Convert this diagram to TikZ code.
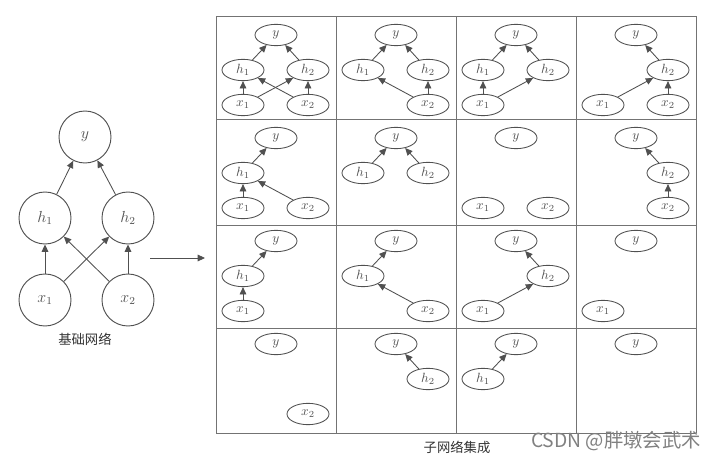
\documentclass[tikz,border=0pt]{standalone}
\usepackage{fontspec}
\newfontfamily\cjk{Noto Sans CJK SC}
\usetikzlibrary{arrows.meta,shapes.geometric}
\definecolor{inkgray}{HTML}{505050}
\tikzset{
  bignode/.style={circle,draw=inkgray,line width=0.7pt,minimum size=39pt,inner sep=0pt,text=inkgray,font=\large},
  subnode/.style={ellipse,draw=inkgray,line width=0.65pt,minimum width=31.5pt,minimum height=16pt,inner sep=0pt,text=inkgray,font=\fontsize{10pt}{12pt}\selectfont},
  link/.style={draw=inkgray,line width=0.65pt,-{Triangle[length=5.5pt,width=5pt]}},
  gridline/.style={draw=black!55,line width=0.7pt},
  caption/.style={text=black!80,font=\cjk\fontsize{10pt}{12pt}\selectfont},
}
\begin{document}
\begin{tikzpicture}[x=0.75pt,y=-0.75pt]
  % coordinates are pixels of a 715 x 464 figure, y pointing down
  \useasboundingbox (0,0) rectangle (715,464);
  % base network
  \node[bignode] (y) at (85,137) {$y$};
  \node[bignode] (h1) at (45,218) {$h_1$};
  \node[bignode] (h2) at (128,218) {$h_2$};
  \node[bignode] (x1) at (45,300) {$x_1$};
  \node[bignode] (x2) at (128,300) {$x_2$};
  \foreach \a/\b in {h1/y,h2/y,x1/h1,x1/h2,x2/h1,x2/h2}{\draw[link] (\a) -- (\b);}
  \node[caption] (basecap) at (85,339) {基础网络};
  \coordinate (go) at (150,258);
  \coordinate (gridin) at (205,258);
  \draw[link] (go) -- (gridin);
  % grid of sub-networks
  \foreach \xx in {216,336,456,576,696}{\draw[gridline] (\xx,16) -- (\xx,433);}
  \foreach \yy in {16,119,225,328,433}{\draw[gridline] (216,\yy) -- (696,\yy);}
  \foreach \c/\r/\ns/\es in {
      1/1/{y/y,h1/h_1,h2/h_2,x1/x_1,x2/x_2}/{h1/y,h2/y,x1/h1,x1/h2,x2/h1,x2/h2},
      2/1/{y/y,h1/h_1,h2/h_2,x2/x_2}/{h1/y,h2/y,x2/h1,x2/h2},
      3/1/{y/y,h1/h_1,h2/h_2,x1/x_1}/{h1/y,h2/y,x1/h1,x1/h2},
      4/1/{y/y,h2/h_2,x1/x_1,x2/x_2}/{h2/y,x1/h2,x2/h2},
      1/2/{y/y,h1/h_1,x1/x_1,x2/x_2}/{h1/y,x1/h1,x2/h1},
      2/2/{y/y,h1/h_1,h2/h_2}/{h1/y,h2/y},
      3/2/{y/y,x1/x_1,x2/x_2}/{},
      4/2/{y/y,h2/h_2,x2/x_2}/{h2/y,x2/h2},
      1/3/{y/y,h1/h_1,x1/x_1}/{h1/y,x1/h1},
      2/3/{y/y,h1/h_1,x2/x_2}/{h1/y,x2/h1},
      3/3/{y/y,h2/h_2,x1/x_1}/{h2/y,x1/h2},
      4/3/{y/y,x1/x_1}/{},
      1/4/{y/y,x2/x_2}/{},
      2/4/{y/y,h2/h_2}/{h2/y},
      3/4/{y/y,h1/h_1}/{h1/y},
      4/4/{y/y}/{}}{
    \begin{scope}[shift={(216+120*\c-120,16+103*\r-103)}]
      \coordinate (p-y) at (60,19);
      \coordinate (p-h1) at (27,54);
      \coordinate (p-h2) at (92,54);
      \coordinate (p-x1) at (27,89);
      \coordinate (p-x2) at (92,89);
      \foreach \n/\l in \ns {\node[subnode] (s\c\r\n) at (p-\n) {$\l$};}
      \foreach \a/\b in \es {\draw[link] (s\c\r\a) -- (s\c\r\b);}
    \end{scope}}
  \node[caption] (gridcap) at (457,447) {子网络集成};
  \node[text=black!50,font=\cjk\fontsize{14.5pt}{16pt}\selectfont] (mark) at (616,441) {CSDN @胖墩会武术};
\end{tikzpicture}
\end{document}
